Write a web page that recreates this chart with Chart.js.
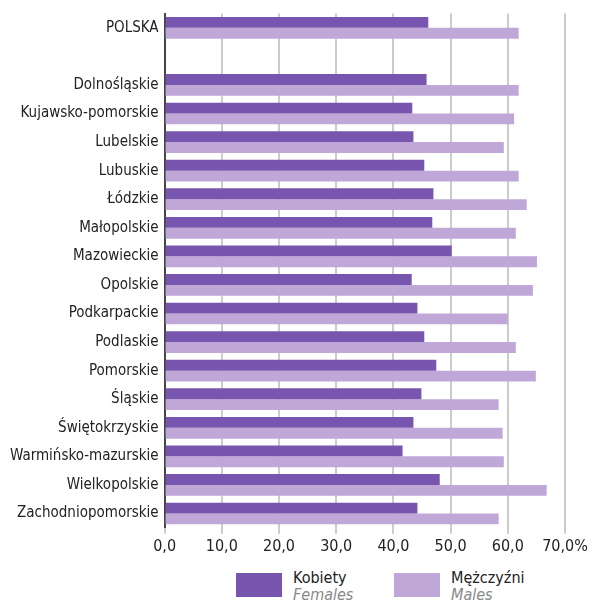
<!DOCTYPE html>
<html>
<head>
  <meta charset="utf-8">
  <title>Kobiety i mężczyźni według województw</title>
  <script src="https://cdn.jsdelivr.net/npm/chart.js"></script>
  <style>
    body { margin: 0; background: #fff; font-family: "Liberation Sans Narrow", "DejaVu Sans Condensed", "Roboto", sans-serif; }
    #wrap { width: 601px; height: 559px; }
    #legend { display: flex; margin-top: 11px; padding-left: 236px; }
    .item { display: flex; align-items: flex-start; width: 158px; }
    .box { width: 46px; height: 24px; margin-right: 11px; margin-top: 3px; }
    .t1 { font-size: 16px; color: #222; line-height: 16px; }
    .t2 { font-size: 16px; color: #888; font-style: italic; line-height: 17px; }
  </style>
</head>
<body>
  <div id="wrap"><canvas id="myChart"></canvas></div>
  <div id="legend"></div>

  <script>
    // regions ('' = gap after the national total)
    const regions = ['POLSKA', '', 'Dolnośląskie', 'Kujawsko-pomorskie', 'Lubelskie', 'Lubuskie', 'Łódzkie',
      'Małopolskie', 'Mazowieckie', 'Opolskie', 'Podkarpackie', 'Podlaskie', 'Pomorskie', 'Śląskie',
      'Świętokrzyskie', 'Warmińsko-mazurskie', 'Wielkopolskie', 'Zachodniopomorskie'];

    const females = [46.1, null, 45.8, 43.3, 43.5, 45.4, 47.0, 46.8, 50.2, 43.2, 44.2, 45.4, 47.5, 44.9, 43.5, 41.6, 48.1, 44.2];
    const males   = [61.9, null, 61.9, 61.1, 59.3, 61.9, 63.3, 61.4, 65.1, 64.4, 60.0, 61.4, 64.9, 58.4, 59.1, 59.3, 66.8, 58.4];

    const seriesNames = ['Kobiety', 'Mężczyźni'];
    const seriesNamesEn = ['Females', 'Males'];
    const xTicks = [0, 10, 20, 30, 40, 50, 60, 70];

    const font = '"Liberation Sans Narrow", "DejaVu Sans Condensed", "Roboto", sans-serif';

    var ctx = document.getElementById('myChart').getContext('2d');
    const myChart = new Chart(ctx, {
      type: 'bar',
      data: {
        labels: regions,
        datasets: [
          { label: seriesNames[0], data: females, backgroundColor: '#7855af' },
          { label: seriesNames[1], data: males, backgroundColor: '#bfa8d8' }
        ]
      },
      options: {
        indexAxis: 'y',
        responsive: true,
        maintainAspectRatio: false,
        animation: false,
        categoryPercentage: 0.76,
        barPercentage: 1.0,
        layout: { padding: { top: 0, right: 36, left: 4, bottom: 0 } },
        plugins: { legend: { display: false }, tooltip: { enabled: false } },
        scales: {
          x: {
            min: 0,
            max: 70,
            afterBuildTicks: function (scale) {
              scale.ticks = xTicks.map(v => ({ value: v }));
            },
            ticks: {
              color: '#222',
              font: { family: font, size: 16 },
              padding: 3,
              callback: function (v) {
                return v.toFixed(1).replace('.', ',') + (v === 70 ? '%' : '');
              }
            },
            grid: { color: '#cccccc', lineWidth: 2, tickLength: 6 },
            border: { display: false }
          },
          y: {
            ticks: { color: '#222', font: { family: font, size: 15, lineHeight: 1 }, padding: 6 },
            grid: { drawOnChartArea: false, drawTicks: false },
            border: { display: true, color: '#444', width: 2 }
          }
        }
      }
    });

    // legend with Polish / English names
    const colors = ['#7855af', '#bfa8d8'];
    const legend = document.getElementById('legend');
    seriesNames.forEach(function (name, i) {
      const item = document.createElement('div');
      item.className = 'item';
      item.innerHTML = '<div class="box" style="background:' + colors[i] + '"></div>' +
        '<div><div class="t1">' + name + '</div><div class="t2">' + seriesNamesEn[i] + '</div></div>';
      legend.appendChild(item);
    });
  </script>
</body>
</html>
